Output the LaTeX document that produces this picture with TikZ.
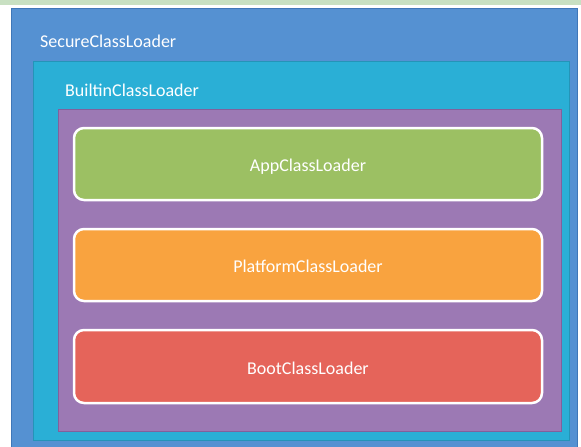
\documentclass[tikz,border=0pt]{standalone}
\usepackage{fontspec}
\setmainfont{Carlito}
\definecolor{secureblue}{HTML}{5591D2}
\definecolor{secureedge}{HTML}{3F77B8}
\definecolor{builtincyan}{HTML}{2AAFD6}
\definecolor{builtinedge}{HTML}{2494B8}
\definecolor{loaderpurple}{HTML}{9C79B4}
\definecolor{loaderedge}{HTML}{82609C}
\definecolor{appgreen}{HTML}{9CC063}
\definecolor{platformorange}{HTML}{F9A33F}
\definecolor{bootred}{HTML}{E5645A}
\definecolor{topstrip}{HTML}{C8E0C2}
\begin{document}
\begin{tikzpicture}[x=1pt, y=-1pt,
    frame/.style={rectangle, inner sep=0pt, line width=1pt},
    loader/.style={rectangle, rounded corners=10pt, draw=white, line width=2.5pt,
      minimum width=468pt, minimum height=72pt, inner sep=0pt, text=white,
      text height=15pt, text depth=0pt, font=\fontsize{18}{20}\selectfont},
    label/.style={anchor=base west, inner sep=0pt, text=white,
      font=\fontsize{18}{20}\selectfont}]
  \useasboundingbox (0,0) rectangle (581,447);
  \fill[white] (0,0) rectangle (581,447);
  \fill[topstrip] (0,0) rectangle (581,5);

  \node[frame, fill=secureblue, draw=secureedge, minimum width=566pt, minimum height=441pt] (secure) at (294,228.5) {};
  \node[frame, fill=builtincyan, draw=builtinedge, minimum width=536pt, minimum height=379pt] (builtin) at (301,250.5) {};
  \node[frame, fill=loaderpurple, draw=loaderedge, minimum width=503pt, minimum height=322pt] (inner) at (309.5,270) {};

  \node[label] (securelabel) at (40,47.5) {SecureClassLoader};
  \node[label] (builtinlabel) at (65,96) {BuiltinClassLoader};

  \node[loader, fill=appgreen] (app) at (308,164) {AppClassLoader};
  \node[loader, fill=platformorange] (platform) at (308,265) {PlatformClassLoader};
  \node[loader, fill=bootred, minimum height=73pt] (boot) at (308,366.5) {BootClassLoader};
\end{tikzpicture}
\end{document}
